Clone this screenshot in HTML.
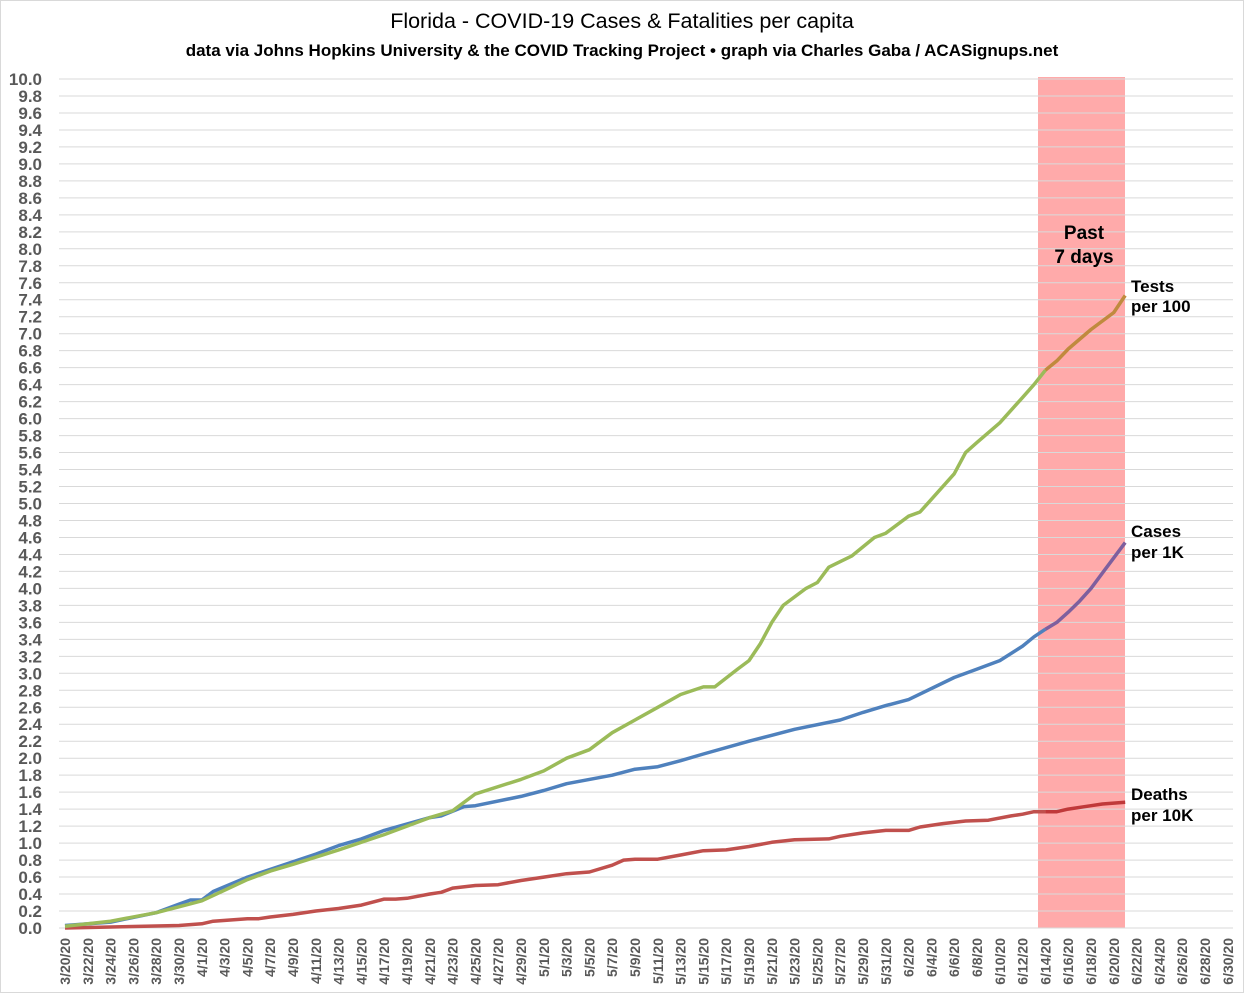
<!DOCTYPE html>
<html><head><meta charset="utf-8"><style>
body{margin:0;background:#fff;}
svg text{font-family:"Liberation Sans",sans-serif;}
</style></head><body>
<svg id="s" width="1244" height="993" xmlns="http://www.w3.org/2000/svg">
<rect x="0" y="0" width="1244" height="993" fill="#fff"/>
<rect x="0.5" y="0.5" width="1243" height="992" fill="none" stroke="#d9d9d9"/>
<text x="622" y="28" text-anchor="middle" font-size="21.5" fill="#000">Florida - COVID-19 Cases &amp; Fatalities per capita</text>
<text x="622" y="56" text-anchor="middle" font-size="17" font-weight="bold" fill="#000">data via Johns Hopkins University &amp; the COVID Tracking Project • graph via Charles Gaba / ACASignups.net</text>
<rect x="1038" y="77" width="87" height="851" fill="#ffaaaa"/>
<g id="grid"></g>
<g id="lines"></g>
<text x="1084" y="239" text-anchor="middle" font-size="19" font-weight="bold">Past</text>
<text x="1084" y="263" text-anchor="middle" font-size="19" font-weight="bold">7 days</text>
<text x="1131" y="292" font-size="17" font-weight="bold">Tests</text>
<text x="1131" y="312" font-size="17" font-weight="bold">per 100</text>
<text x="1131" y="537" font-size="17" font-weight="bold">Cases</text>
<text x="1131" y="558" font-size="17" font-weight="bold">per 1K</text>
<text x="1131" y="800" font-size="17" font-weight="bold">Deaths</text>
<text x="1131" y="821" font-size="17" font-weight="bold">per 10K</text>
</svg>
<script>
var NS="http://www.w3.org/2000/svg";
function el(p,t,a,txt){var e=document.createElementNS(NS,t);for(var k in a)e.setAttribute(k,a[k]);if(txt!==undefined)e.textContent=txt;p.appendChild(e);return e;}
var g=document.getElementById('grid'),L=document.getElementById('lines');
function Y(v){return 928-v*84.9;}
function X(d){return 65+d*11.4;}
for(var i=0;i<=50;i++){var v=i*0.2,y=Y(v);
 el(g,'line',{x1:59,x2:1233,y1:y,y2:y,stroke:'#d9d9d9','stroke-width':1});
 el(g,'text',{x:42,y:y+6,'text-anchor':'end','font-size':17,'font-weight':'bold',fill:'#595959'},v.toFixed(1));}
var mn=[3,4,5,6];
var m=0,day=20;
for(var d=0;d<=102;d++){
 if(d%2==0){var x=X(d)+5;el(g,'text',{transform:'translate('+x+',938) rotate(-90)','text-anchor':'end','font-size':14,'font-weight':'bold',fill:'#595959'},mn[m]+'/'+day+'/20');}
 day++;if(day>[31,30,31,30][m]){day=1;m++;}
}
function dayIdx(s){var p=s.split('/');var mo=+p[0],dd=+p[1];var off={3:-20,4:11,5:41,6:72}[mo];return dd+off;}
var tests=[["3/20",0.02],["3/24",0.08],["3/28",0.18],["3/30",0.25],["4/1",0.32],["4/5",0.57],["4/7",0.67],["4/9",0.75],["4/13",0.92],["4/17",1.1],["4/21",1.3],["4/23",1.38],["4/25",1.58],["4/29",1.75],["5/1",1.85],["5/3",2.0],["5/5",2.1],["5/7",2.3],["5/9",2.45],["5/11",2.6],["5/13",2.75],["5/15",2.84],["5/16",2.84],["5/18",3.05],["5/19",3.15],["5/20",3.35],["5/21",3.6],["5/22",3.8],["5/24",4.0],["5/25",4.07],["5/26",4.25],["5/28",4.38],["5/30",4.6],["5/31",4.65],["6/2",4.85],["6/3",4.9],["6/4",5.05],["6/6",5.35],["6/7",5.6],["6/8",5.72],["6/10",5.95],["6/12",6.25],["6/13",6.4],["6/14",6.57],["6/15",6.68],["6/16",6.82],["6/18",7.05],["6/20",7.25],["6/21",7.45]];
var cases=[["3/20",0.03],["3/24",0.07],["3/28",0.18],["3/30",0.28],["3/31",0.33],["4/1",0.33],["4/2",0.43],["4/5",0.6],["4/9",0.78],["4/11",0.87],["4/13",0.97],["4/15",1.05],["4/17",1.15],["4/21",1.3],["4/22",1.32],["4/24",1.43],["4/25",1.44],["4/29",1.55],["5/1",1.62],["5/3",1.7],["5/7",1.8],["5/9",1.87],["5/11",1.9],["5/13",1.97],["5/15",2.05],["5/19",2.2],["5/21",2.27],["5/23",2.34],["5/27",2.45],["5/29",2.54],["5/31",2.62],["6/2",2.69],["6/6",2.95],["6/8",3.05],["6/10",3.15],["6/12",3.32],["6/13",3.43],["6/14",3.52],["6/15",3.6],["6/16",3.72],["6/17",3.85],["6/18",4.0],["6/19",4.18],["6/20",4.36],["6/21",4.54]];
var deaths=[["3/20",0.0],["3/30",0.03],["4/1",0.05],["4/2",0.08],["4/5",0.11],["4/6",0.11],["4/7",0.13],["4/9",0.16],["4/11",0.2],["4/13",0.23],["4/15",0.27],["4/17",0.34],["4/18",0.34],["4/19",0.35],["4/21",0.4],["4/22",0.42],["4/23",0.47],["4/25",0.5],["4/27",0.51],["4/29",0.56],["5/1",0.6],["5/3",0.64],["5/5",0.66],["5/7",0.74],["5/8",0.8],["5/9",0.81],["5/11",0.81],["5/13",0.86],["5/15",0.91],["5/17",0.92],["5/19",0.96],["5/21",1.01],["5/23",1.04],["5/26",1.05],["5/27",1.08],["5/29",1.12],["5/31",1.15],["6/2",1.15],["6/3",1.19],["6/5",1.23],["6/7",1.26],["6/9",1.27],["6/11",1.32],["6/12",1.34],["6/13",1.37],["6/14",1.37],["6/15",1.37],["6/16",1.4],["6/18",1.44],["6/19",1.46],["6/21",1.48]];
function draw(data,c1,c2){var a=[],b=[];data.forEach(function(p){var d=dayIdx(p[0]);var pt=X(d).toFixed(1)+','+Y(p[1]).toFixed(1);if(d<=86)a.push(pt);if(d>=86)b.push(pt);});
 el(L,'polyline',{points:a.join(' '),fill:'none',stroke:c1,'stroke-width':3.5,'stroke-linejoin':'round'});
 el(L,'polyline',{points:b.join(' '),fill:'none',stroke:c2,'stroke-width':3.5,'stroke-linejoin':'round'});}
draw(deaths,'#c0504d','#c0393a');
draw(cases,'#4f81bd','#7e5f9e');
draw(tests,'#9bbb59','#c08a3e');
</script>
</body></html>
